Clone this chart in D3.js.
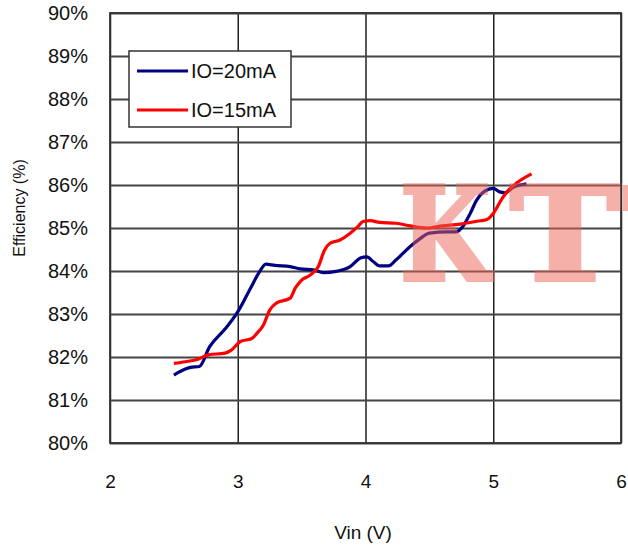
<!DOCTYPE html>
<html>
<head>
<meta charset="utf-8">
<script src="https://cdn.jsdelivr.net/npm/d3@7"></script>
<style>
  body { margin: 0; background: #fff; }
  .lbl { font-family: "Liberation Sans", Arial, sans-serif; fill: #111; }
</style>
</head>
<body>
<div id="chart"></div>
<script>
// Set up conventions
let width = 628;
let height = 551;
let margin = ({top: 13, right: 7, bottom: 108, left: 110});

// Data
let xTicks = [2, 3, 4, 5, 6];
let yTicks = [80, 81, 82, 83, 84, 85, 86, 87, 88, 89, 90];
let seriesNames = ["IO=20mA", "IO=15mA"];
let seriesColors = ["#000080", "#ff0000"];

let vin20 = [2.50, 2.59, 2.63, 2.70, 2.78, 2.90, 3.00, 3.10, 3.17, 3.22, 3.29, 3.41, 3.49, 3.60, 3.67, 3.77, 3.88, 3.96, 4.01, 4.06, 4.11, 4.18, 4.24, 4.35, 4.43, 4.50, 4.64, 4.71, 4.77, 4.82, 4.87, 4.93, 5.00, 5.05, 5.09, 5.16, 5.26];
let eff20 = [81.58, 81.72, 81.76, 81.78, 82.24, 82.65, 83.05, 83.60, 83.98, 84.16, 84.13, 84.10, 84.05, 84.02, 83.96, 83.99, 84.10, 84.30, 84.33, 84.22, 84.12, 84.12, 84.26, 84.57, 84.76, 84.88, 84.91, 84.91, 85.07, 85.34, 85.65, 85.85, 85.92, 85.84, 85.82, 85.95, 86.03];

let vin15 = [2.50, 2.59, 2.69, 2.77, 2.90, 2.95, 3.02, 3.11, 3.15, 3.20, 3.25, 3.30, 3.41, 3.45, 3.50, 3.57, 3.63, 3.68, 3.72, 3.80, 3.88, 3.94, 3.98, 4.04, 4.11, 4.24, 4.35, 4.48, 4.60, 4.74, 4.86, 4.95, 5.00, 5.07, 5.12, 5.18, 5.30];
let eff15 = [81.85, 81.89, 81.95, 82.05, 82.09, 82.16, 82.36, 82.43, 82.55, 82.74, 83.09, 83.25, 83.37, 83.60, 83.79, 83.91, 84.10, 84.49, 84.64, 84.72, 84.88, 85.03, 85.15, 85.17, 85.13, 85.11, 85.05, 85.00, 85.05, 85.09, 85.15, 85.20, 85.34, 85.69, 85.88, 86.04, 86.26];

let series = [
    vin20.map((v, i) => ({v: v, e: eff20[i]})),
    vin15.map((v, i) => ({v: v, e: eff15[i]}))
];

let svg = d3.select("#chart")
    .append("svg")
    .attr("width", width)
    .attr("height", height)

let xScale = d3.scaleLinear()
    .domain([2, 6])
    .range([margin.left, width - margin.right])

let yScale = d3.scaleLinear()
    .domain([80, 90])
    .range([height - margin.bottom, margin.top])

// Grid + labels through the axes
let xAxis = d3.axisBottom().scale(xScale).tickValues(xTicks)
    .tickSize(-(height - margin.bottom - margin.top)).tickPadding(32)
    .tickFormat(d3.format("d"))
let yAxis = d3.axisLeft().scale(yScale).tickValues(yTicks)
    .tickSize(-(width - margin.right - margin.left)).tickPadding(22)
    .tickFormat(d => d + "%")

svg.append("g")
    .attr("class", "xaxis")
    .attr("transform", "translate(0," + (height - margin.bottom) + ")")
    .call(xAxis)

svg.append("g")
    .attr("class", "yaxis")
    .attr("transform", "translate(" + margin.left + ",0)")
    .call(yAxis)

svg.selectAll(".xaxis .domain, .yaxis .domain").remove()
svg.selectAll(".xaxis line").attr("stroke", "#222").attr("stroke-width", 1.5)
svg.selectAll(".yaxis line").attr("stroke", "#444").attr("stroke-width", 1.8)
svg.selectAll(".xaxis text").attr("class", "lbl").style("font-size", "19px")
svg.selectAll(".yaxis text").attr("class", "lbl").style("font-size", "20px")

// plot frame
svg.append("rect")
    .attr("x", margin.left)
    .attr("y", margin.top)
    .attr("width", width - margin.right - margin.left)
    .attr("height", height - margin.bottom - margin.top)
    .attr("fill", "none")
    .attr("stroke", "#333")
    .attr("stroke-width", 1.8)

// Path for line graph
let line = d3.line()
    .x(d => xScale(d.v))
    .y(d => yScale(d.e))
    .curve(d3.curveMonotoneX)

series.forEach((s, i) => {
    svg.append("path")
        .datum(s)
        .attr("class", "line")
        .attr("fill", "none")
        .attr("stroke", seriesColors[i])
        .attr("stroke-width", 3.2)
        .attr("stroke-linejoin", "round")
        .attr("d", line)
})

// Legend
let legend = svg.append("g").attr("transform", "translate(129,51)")
legend.append("rect")
    .attr("width", 162)
    .attr("height", 76)
    .attr("fill", "#fff")
    .attr("stroke", "#333")
    .attr("stroke-width", 1.5)

seriesNames.forEach((name, i) => {
    let y = 20 + i * 39;
    legend.append("line")
        .attr("x1", 8).attr("x2", 59)
        .attr("y1", y).attr("y2", y)
        .attr("stroke", seriesColors[i])
        .attr("stroke-width", 3)
    legend.append("text")
        .attr("class", "lbl")
        .attr("x", 62)
        .attr("y", y + 7)
        .style("font-size", "20px")
        .text(name)
})

// Axis titles
svg.append("text")
    .attr("class", "lbl")
    .attr("x", 363)
    .attr("y", 539)
    .attr("text-anchor", "middle")
    .style("font-size", "19px")
    .text("Vin (V)")

svg.append("text")
    .attr("class", "lbl")
    .attr("transform", "translate(25,208) rotate(-90)")
    .attr("text-anchor", "middle")
    .style("font-size", "16px")
    .text("Efficiency (%)")

// Watermark (semi-transparent, over the lines)
let markColor = "rgb(234,100,86)";
let mark = svg.append("g").attr("opacity", 0.5)

let markLetters = [["K", 400, 90], ["T", 510, 110]]
markLetters.forEach(m => {
    mark.append("text")
        .attr("x", m[1])
        .attr("y", 280)
        .attr("textLength", m[2])
        .attr("lengthAdjust", "spacingAndGlyphs")
        .style("font-family", "'DejaVu Serif', serif")
        .style("font-weight", "bold")
        .style("font-size", "130px")
        .style("fill", markColor)
        .style("stroke", markColor)
        .style("stroke-width", 4)
        .style("stroke-linejoin", "miter")
        .text(m[0])
})
// sliver of the next, cut-off letter at the right edge
mark.append("rect")
    .attr("x", 623).attr("y", 185)
    .attr("width", 5).attr("height", 26)
    .attr("fill", markColor)
</script>
</body>
</html>
